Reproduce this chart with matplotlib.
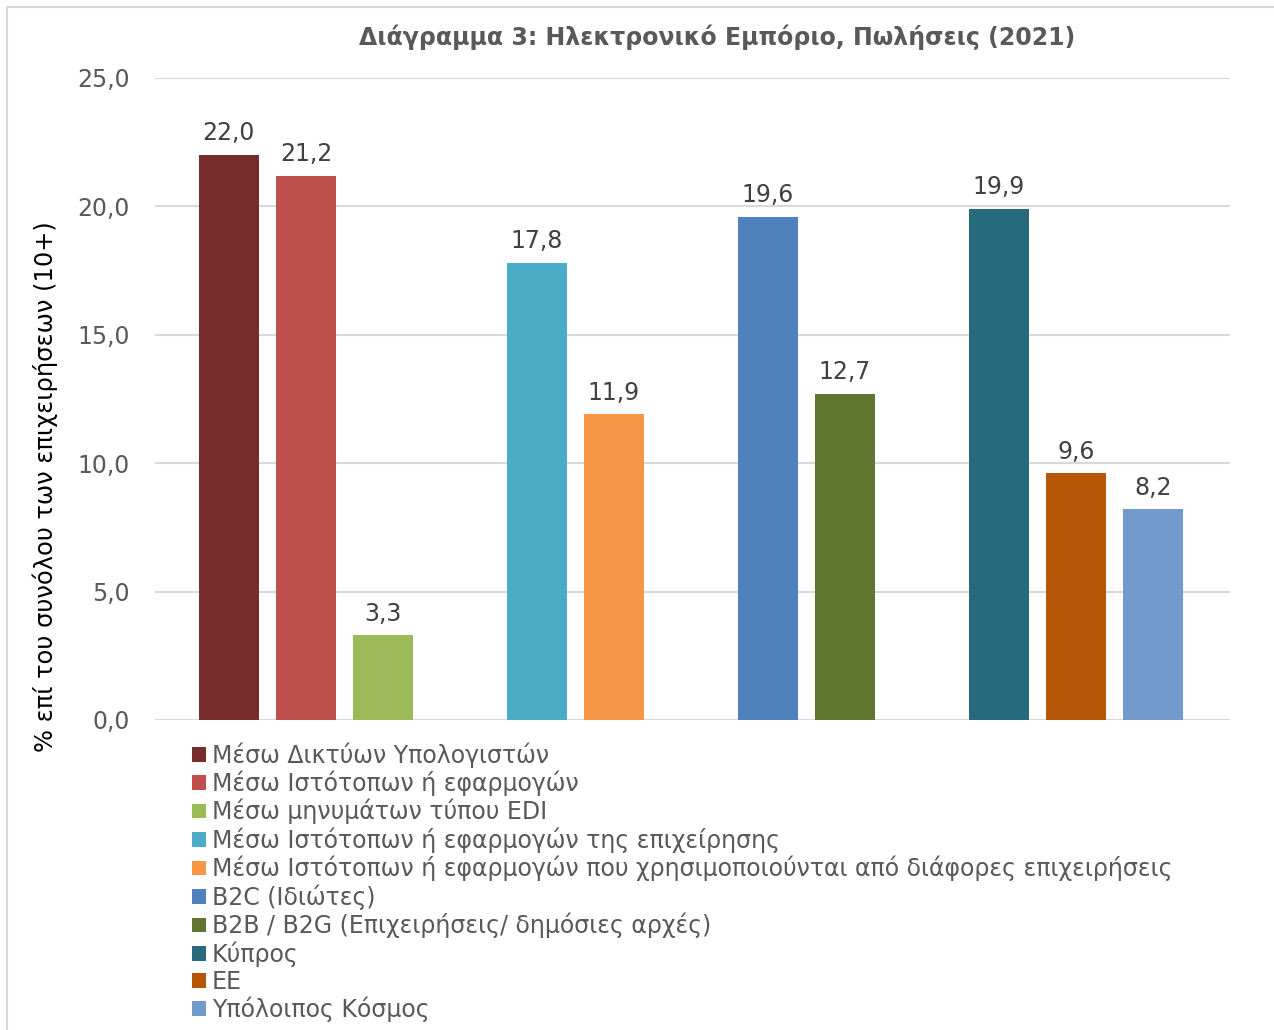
import matplotlib.pyplot as plt
from matplotlib.patches import Rectangle

plt.rcParams['font.family'] = ['DejaVu Sans']

# series (one bar each), grouped in clusters
labels = [
    "Μέσω Δικτύων Υπολογιστών",
    "Μέσω Ιστότοπων ή εφαρμογών",
    "Μέσω μηνυμάτων τύπου EDI",
    "Μέσω Ιστότοπων ή εφαρμογών της επιχείρησης",
    "Μέσω Ιστότοπων ή εφαρμογών που χρησιμοποιούνται από διάφορες επιχειρήσεις",
    "B2C (Ιδιώτες)",
    "B2B / B2G (Επιχειρήσεις/ δημόσιες αρχές)",
    "Κύπρος",
    "ΕΕ",
    "Υπόλοιπος Κόσμος",
]
values = [22.0, 21.2, 3.3, 17.8, 11.9, 19.6, 12.7, 19.9, 9.6, 8.2]
group_sizes = [3, 2, 2, 3]
colors = ["#772B2A", "#C0504D", "#9BBB59", "#4BACC6", "#F79646",
          "#4F81BD", "#5F7530", "#276A7C", "#B65708", "#729ACA"]
yticks = [0, 5, 10, 15, 20, 25]

FS = 17

# slot positions: one empty slot between clusters
xs = []
slot = 0
for n in group_sizes:
    for i in range(n):
        xs.append(slot)
        slot += 1
    slot += 1

fig = plt.figure(figsize=(12.74, 10.30), dpi=100)
ax = fig.add_axes([155 / 1274, 1 - 720 / 1030, (1230 - 155) / 1274, (720 - 78) / 1030])

for x, v, c, lab in zip(xs, values, colors, labels):
    ax.bar(x, v, width=0.78, color=c, label=lab, zorder=2)
    ax.annotate(f"{v:.1f}".replace(".", ","), (x, v), xytext=(0, 7),
                textcoords="offset points", ha="center", va="bottom",
                fontsize=FS, color="#404040")

ax.set_xlim(-0.96, 13.0)
ax.set_ylim(0, 25)
ax.set_yticks(yticks)
ax.set_yticklabels([f"{t:.1f}".replace(".", ",") for t in yticks])
ax.set_xticks([])
ax.tick_params(axis="y", length=0, labelsize=FS, labelcolor="#595959", pad=18)
ax.grid(axis="y", color="#D9D9D9", linewidth=1.5, zorder=0)
for s in ax.spines.values():
    s.set_visible(False)

fig.text(45 / 1274, 1 - 487 / 1030, "% επί του συνόλου των επιχειρήσεων (10+)",
         rotation=90, ha="center", va="center", fontsize=17.4, color="#000000")

fig.text(717 / 1274, 1 - 37 / 1030, "Διάγραμμα 3: Ηλεκτρονικό Εμπόριο, Πωλήσεις (2021)",
         ha="center", va="center", fontsize=FS, fontweight="bold", color="#595959")

leg = fig.legend(loc="upper left", bbox_to_anchor=(192 / 1274, 1 - 742 / 1030),
                 frameon=False, fontsize=FS, handlelength=0.58, handleheight=0.58,
                 handletextpad=0.25, labelspacing=0.125, borderaxespad=0, borderpad=0)
for t in leg.get_texts():
    t.set_color("#595959")

fig.patches.append(Rectangle((7 / 1274, -0.01), 1.0, 1 - 7 / 1030 + 0.01,
                             transform=fig.transFigure, fill=False,
                             edgecolor="#D9D9D9", linewidth=1.5))

fig.savefig("out.png", dpi=100)
